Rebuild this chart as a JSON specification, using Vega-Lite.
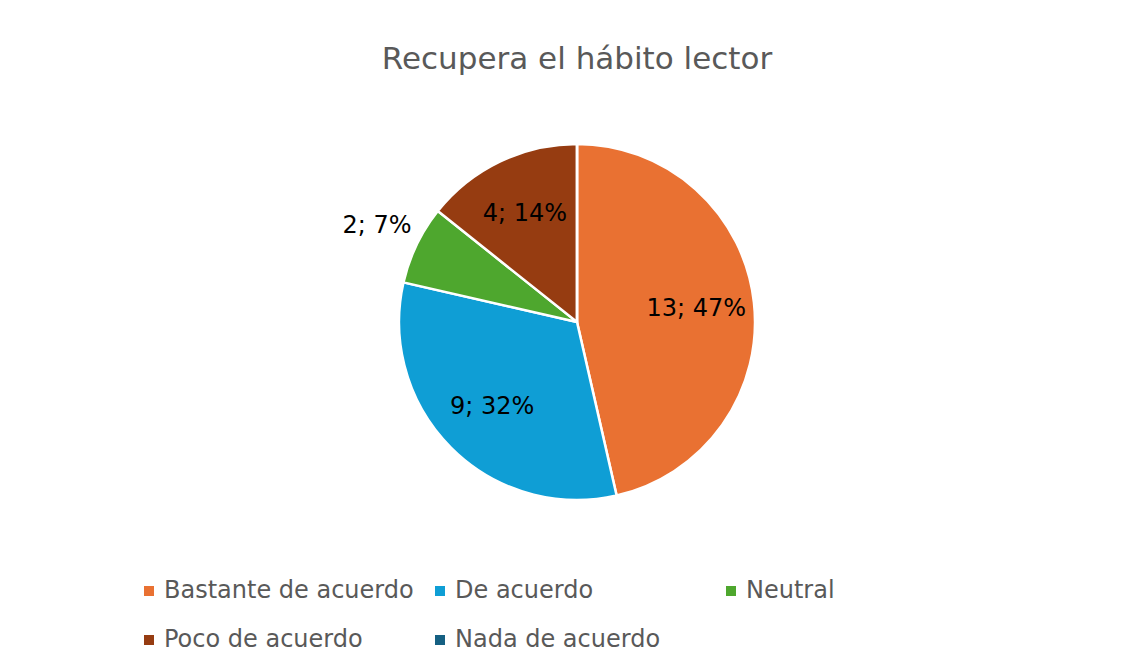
{
  "$schema": "https://vega.github.io/schema/vega-lite/v6.json",
  "width": 356,
  "height": 356,
  "autosize": {"type": "none"},
  "padding": {"left": 399, "top": 144, "right": 379, "bottom": 169},
  "background": "white",
  "config": {"view": {"stroke": null}, "font": "DejaVu Sans"},
  "title": {
    "text": "Recupera el hábito lector",
    "anchor": "middle",
    "offset": 12,
    "fontSize": 31,
    "fontWeight": "normal",
    "font": "DejaVu Sans",
    "color": "#595959"
  },
  "data": {
    "values": [
      {"idx": 1, "cat": "Bastante de acuerdo", "value": 13, "label": "13; 47%"},
      {"idx": 2, "cat": "De acuerdo", "value": 9, "label": "9; 32%"},
      {"idx": 3, "cat": "Neutral", "value": 2, "label": "2; 7%"},
      {"idx": 4, "cat": "Poco de acuerdo", "value": 4, "label": "4; 14%"},
      {"idx": 5, "cat": "Nada de acuerdo", "value": 0, "label": ""}
    ]
  },
  "encoding": {
    "theta": {"field": "value", "type": "quantitative", "stack": true},
    "order": {"field": "idx", "type": "quantitative"}
  },
  "layer": [
    {
      "mark": {"type": "arc", "stroke": "white", "strokeWidth": 2.5},
      "encoding": {
        "color": {
          "field": "cat",
          "type": "nominal",
          "sort": ["Bastante de acuerdo", "De acuerdo", "Neutral", "Poco de acuerdo", "Nada de acuerdo"],
          "scale": {
            "domain": ["Bastante de acuerdo", "De acuerdo", "Neutral", "Poco de acuerdo", "Nada de acuerdo"],
            "range": ["#E97132", "#0F9ED5", "#4EA72E", "#963C11", "#156082"]
          },
          "legend": {
            "title": null,
            "orient": "none",
            "legendX": -262,
            "legendY": 435,
            "direction": "horizontal",
            "columns": 3,
            "gridAlign": "all",
            "columnPadding": 14,
            "rowPadding": 25,
            "symbolType": "square",
            "symbolSize": 100,
            "symbolStrokeWidth": 0,
            "labelFontSize": 24,
            "labelFont": "DejaVu Sans",
            "labelColor": "#595959",
            "labelOffset": 3,
            "labelLimit": 400
          }
        }
      }
    },
    {
      "mark": {"type": "text", "radius": 120, "fontSize": 24, "font": "DejaVu Sans", "fill": "#000000"},
      "encoding": {
        "text": {"condition": {"test": "datum.value >= 3", "field": "label"}, "value": ""}
      }
    },
    {
      "mark": {"type": "text", "radius": 222, "fontSize": 24, "font": "DejaVu Sans", "fill": "#000000"},
      "encoding": {
        "text": {"condition": {"test": "datum.value > 0 && datum.value < 3", "field": "label"}, "value": ""}
      }
    }
  ]
}
